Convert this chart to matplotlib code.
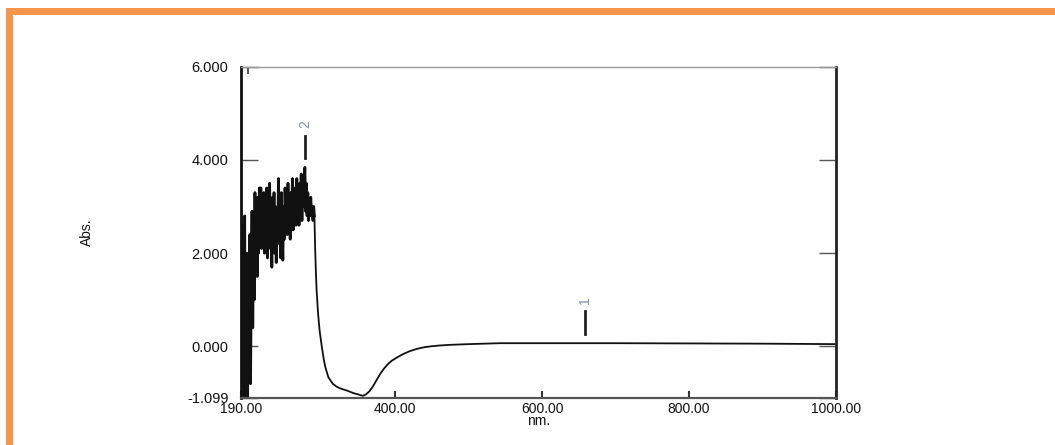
import matplotlib
matplotlib.use("Agg")
import matplotlib.pyplot as plt
from matplotlib.patches import Rectangle

# --- spectrum data -------------------------------------------------------
# noisy, detector-saturated region (1 nm steps, 190-290 nm)
wl_noisy = list(range(190, 291))
abs_noisy = [
    2.9, -1.5, 2.6, -1.3, 1.2, 2.8, -1.4, 0.5, 2.0, -1.2,
    1.8, 0.2, 2.4, -0.8, 1.4, 2.9, 0.4, 2.2, 1.0, 3.3,
    1.6, 2.7, 1.5, 3.2, 2.0, 3.4, 2.3, 3.4, 2.1, 3.1,
    2.4, 3.3, 2.0, 2.9, 2.2, 3.4, 1.9, 3.0, 2.3, 3.5,
    2.1, 2.8, 1.7, 3.2, 2.4, 3.3, 2.0, 3.0, 1.8, 2.9,
    2.2, 3.6, 2.4, 3.1, 1.9, 3.3, 2.5, 1.85, 3.0, 2.3,
    3.4, 2.6, 3.2, 2.4, 3.5, 2.7, 3.0, 2.3, 3.3, 2.6,
    3.6, 2.5, 3.2, 2.7, 3.4, 2.6, 3.6, 2.8, 3.3, 2.6,
    3.5, 2.9, 3.7, 2.7, 3.4, 3.0, 3.6, 3.84, 2.9, 3.5,
    2.8, 3.3, 2.7, 3.1, 2.8, 3.2, 2.9, 3.0, 2.7, 3.0,
    2.8,
]
# smooth part of the scan
wl_smooth = [291, 292, 293, 295, 297, 300, 303, 305, 309, 315, 320, 325,
             335, 343, 350, 356, 360, 365, 370, 375, 380, 385, 390, 395,
             402, 410, 420, 430, 440, 450, 460, 475, 500, 543, 600, 658,
             700, 800, 900, 1000]
abs_smooth = [2.1, 1.6, 1.2, 0.7, 0.35, 0.0, -0.3, -0.45, -0.66, -0.8,
              -0.86, -0.9, -0.95, -1.0, -1.03, -1.06, -1.03, -0.96, -0.85,
              -0.71, -0.58, -0.47, -0.38, -0.31, -0.24, -0.17, -0.1, -0.05,
              -0.015, 0.005, 0.02, 0.035, 0.05, 0.07, 0.07, 0.07, 0.07, 0.065,
              0.06, 0.05]

# peak picks
peak_ids = ["1", "2"]
peak_wl = [658, 277]
peak_abs = [0.07, 3.84]

x_ticks = [190, 400, 600, 800, 1000]
x_tick_labels = ["190.00", "400.00", "600.00", "800.00", "1000.00"]
y_ticks = [-1.099, 0, 2, 4, 6]
y_tick_labels = ["-1.099", "0.000", "2.000", "4.000", "6.000"]

# --- figure ---------------------------------------------------------------
W, H = 1055, 445
fig = plt.figure(figsize=(W / 100, H / 100), dpi=100)
fig.patch.set_facecolor("white")

ax = fig.add_axes([241 / W, 1 - 397.7 / H, (835.7 - 241) / W, (397.7 - 66.7) / H])

ink = "#111111"
font = "Liberation Sans"

ax.plot(wl_noisy, abs_noisy, color=ink, lw=2.0, solid_joinstyle="round")
ax.plot(wl_noisy[-1:] + wl_smooth, abs_noisy[-1:] + abs_smooth, color=ink,
        lw=1.3, solid_joinstyle="round")

ax.set_xlim(190, 1000)
ax.set_ylim(-1.099, 6.0)

ax.set_xticks(x_ticks)
ax.set_xticklabels(x_tick_labels, fontsize=10, family=font, color=ink)
ax.set_yticks(y_ticks)
ax.set_yticklabels(y_tick_labels, fontsize=10.5, family=font, color=ink)
ax.tick_params(axis="x", direction="in", length=5, width=1.5, color="#333333",
               pad=3)
ax.tick_params(axis="y", direction="in", length=12, width=1.0, color="#555555",
               pad=9, right=True)

top = ax.secondary_xaxis("top")
top.set_xticks([200])
top.set_xticklabels([""])
top.tick_params(direction="in", length=5, width=1.2, color="#333333")
top.spines["top"].set_visible(False)

for side, col, lw in [("left", "#111111", 2.0), ("right", "#222222", 2.0),
                      ("top", "#9a9a9a", 1.0), ("bottom", "#555555", 1.6)]:
    ax.spines[side].set_color(col)
    ax.spines[side].set_linewidth(lw)

ax.set_xlabel("nm.", fontsize=10, family=font, color=ink, labelpad=-1)
ax.set_ylabel("Abs.", fontsize=10, family=font, color=ink, labelpad=67)

# peak markers with rotated labels
for pid, pw, pa in zip(peak_ids, peak_wl, peak_abs):
    ax.plot([pw, pw], [pa + 0.2, pa + 0.68], color="#222222", lw=2.0)
    ax.text(pw, pa + 0.93, pid, rotation=90, ha="center", va="center",
            fontsize=10, family=font, color="#7d8db0")

# orange frame along top and left edges
orange = "#F7964A"
fig.add_artist(Rectangle((6 / W, 0), 6.7 / W, 1 - 8 / H,
                         transform=fig.transFigure, facecolor=orange,
                         edgecolor="none"))
fig.add_artist(Rectangle((6 / W, 1 - 14.5 / H), 1 - 6 / W, 6.5 / H,
                         transform=fig.transFigure, facecolor=orange,
                         edgecolor="none"))

fig.savefig("out.png", dpi=100, facecolor="white")
